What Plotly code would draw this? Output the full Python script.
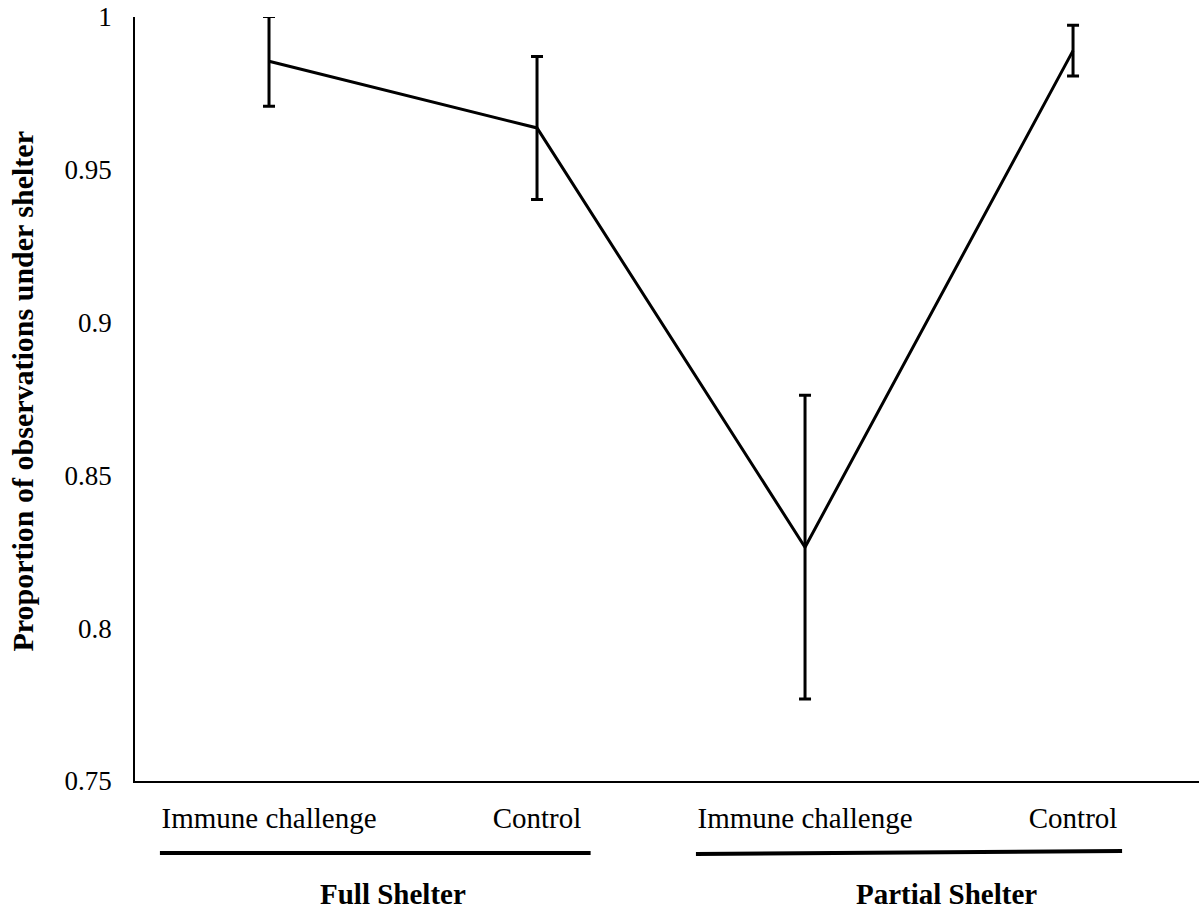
import plotly.graph_objects as go

categories = ["Immune challenge", "Control", "Immune challenge ", "Control "]
tick_labels = ["Immune challenge", "Control", "Immune challenge", "Control"]
means = [0.9855, 0.9637, 0.8265, 0.9890]
errors = [0.0147, 0.0234, 0.0497, 0.0083]
groups = ["Full Shelter", "Partial Shelter"]
y_ticks = [0.75, 0.8, 0.85, 0.9, 0.95, 1.0]
y_tick_text = ["0.75", "0.8", "0.85", "0.9", "0.95", "1"]

xpos = list(range(len(categories)))

fig = go.Figure()
fig.add_trace(go.Scatter(
    x=xpos, y=means, mode="lines",
    line=dict(color="black", width=3),
    error_y=dict(type="data", array=errors, visible=True,
                 color="black", thickness=3, width=6),
    cliponaxis=False, showlegend=False,
))

serif = "Liberation Serif, Times New Roman, serif"

fig.update_layout(
    width=1199, height=911,
    margin=dict(l=135, r=0, t=17, b=130),
    paper_bgcolor="white", plot_bgcolor="white",
    font=dict(family=serif, color="black"),
    xaxis=dict(
        range=[-0.5, 3.47], tickmode="array", tickvals=xpos, ticktext=tick_labels,
        showline=True, linecolor="black", linewidth=1.5, showgrid=False, zeroline=False,
        ticks="outside", ticklen=10, tickcolor="rgba(0,0,0,0)",
        tickfont=dict(family=serif, size=29, color="black"),
    ),
    yaxis=dict(
        range=[0.75, 1.0], tickmode="array", tickvals=y_ticks, ticktext=y_tick_text,
        showline=True, linecolor="black", linewidth=1.5, showgrid=False, zeroline=False,
        ticks="outside", ticklen=16, tickcolor="rgba(0,0,0,0)",
        tickfont=dict(family=serif, size=27, color="black"),
    ),
)

# group bracket lines
fig.add_shape(type="line", xref="x", yref="paper", x0=-0.407, x1=1.20, y0=-0.0942, y1=-0.0942,
              line=dict(color="black", width=4))
fig.add_shape(type="line", xref="x", yref="paper", x0=1.593, x1=3.183, y0=-0.0955, y1=-0.0915,
              line=dict(color="black", width=4))

for gx, g in zip([0.463, 2.526], groups):
    fig.add_annotation(x=gx, y=-0.148, xref="x", yref="paper", text="<b>%s</b>" % g,
                       showarrow=False, xanchor="center", yanchor="middle",
                       font=dict(family=serif, size=29, color="black"))

fig.add_annotation(x=-0.106, y=0.51, xref="paper", yref="paper",
                   text="<b>Proportion of observations under shelter</b>",
                   textangle=-90, showarrow=False, xanchor="center", yanchor="middle",
                   font=dict(family=serif, size=30, color="black"))

fig.write_html("out.html", config={"displayModeBar": False},
               post_script="document.body.style.margin='0px';document.body.style.overflow='hidden';")
